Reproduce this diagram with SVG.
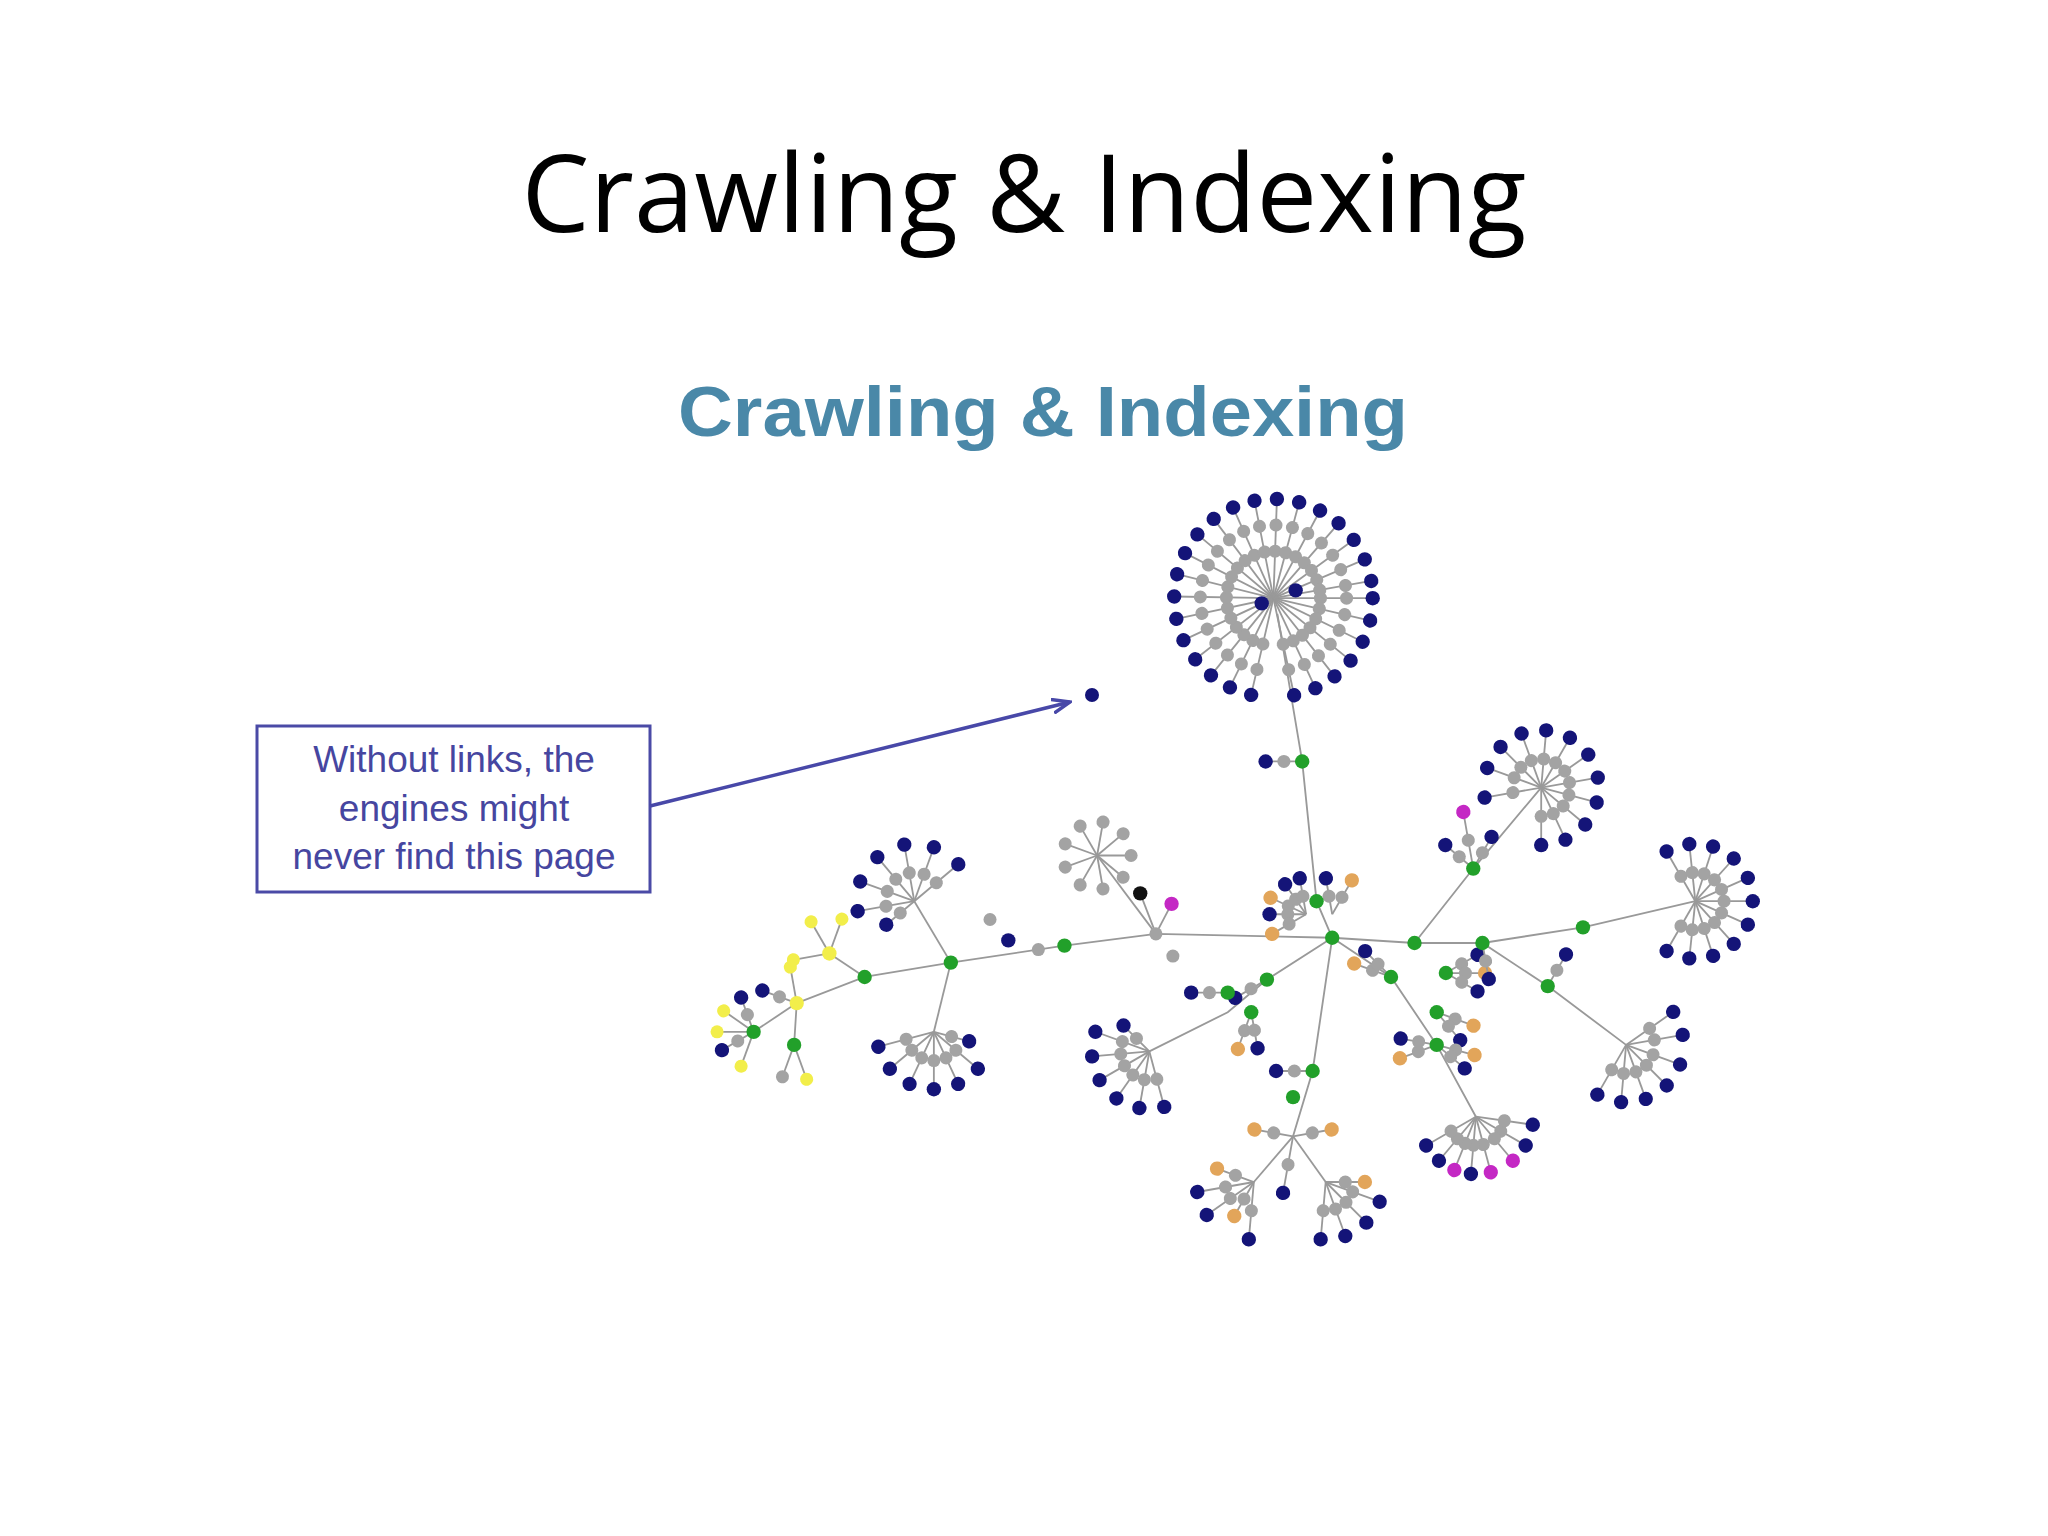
<svg xmlns="http://www.w3.org/2000/svg" xmlns:xlink="http://www.w3.org/1999/xlink" width="2048" height="1536" viewBox="0 0 2048 1536">
<style>
.t{font-family:"Open Sans","Liberation Sans",sans-serif}
.e{stroke:#999;stroke-width:1.4;fill:none}
.g{fill:#a3a3a3}.n{fill:#141478}.gr{fill:#22a02a}.y{fill:#f2ee4a}.o{fill:#e2a55a}.m{fill:#c428c4}.k{fill:#111}
</style>
<defs>
<g id="sB"><line x1="0" y1="0" x2="76" y2="0" class="e"/><circle cx="36" cy="0" r="5" class="g"/><circle cx="56" cy="0" r="5" class="g"/><circle cx="76" cy="0" r="5.5" class="n"/></g>
<g id="sM"><line x1="0" y1="0" x2="44" y2="0" class="e"/><circle cx="22" cy="0" r="5" class="g"/><circle cx="44" cy="0" r="5.5" class="n"/></g>
<g id="sS"><line x1="0" y1="0" x2="28" y2="0" class="e"/><circle cx="14" cy="0" r="5" class="g"/><circle cx="28" cy="0" r="5.5" class="n"/></g>
<g id="sG"><line x1="0" y1="0" x2="26" y2="0" class="e"/><circle cx="26" cy="0" r="5" class="g"/></g>
<g id="sY"><line x1="0" y1="0" x2="28" y2="0" class="e"/><circle cx="28" cy="0" r="5" class="y"/></g>
<g id="sO"><line x1="0" y1="0" x2="30" y2="0" class="e"/><circle cx="15" cy="0" r="5" class="g"/><circle cx="30" cy="0" r="5.5" class="o"/></g>
<g id="sP"><line x1="0" y1="0" x2="44" y2="0" class="e"/><circle cx="22" cy="0" r="5" class="g"/><circle cx="44" cy="0" r="5.5" class="m"/></g>
<marker id="ah" markerWidth="20" markerHeight="16" refX="18" refY="8" orient="auto" markerUnits="userSpaceOnUse"><path d="M0,1 L18,8 L0,15" fill="none" stroke="#4848a8" stroke-width="3.5"/></marker>
</defs>
<rect width="2048" height="1536" fill="#fff"/>
<text class="t" x="1024" y="232" font-size="108" text-anchor="middle" textLength="1005" fill="#000">Crawling &amp; Indexing</text>
<text x="1043" y="436" font-family="Liberation Sans,Arial,sans-serif" font-weight="bold" font-size="70" text-anchor="middle" textLength="730" lengthAdjust="spacingAndGlyphs" fill="#4a88a8">Crawling &amp; Indexing</text>
<g id="callout">
<rect x="257" y="726" width="393" height="166" fill="#fff" stroke="#4a4aa6" stroke-width="3"/>
<g font-family="Liberation Sans,Arial,sans-serif" font-size="37" fill="#4646a0" text-anchor="middle">
<text x="454" y="772">Without links, the</text>
<text x="454" y="821">engines might</text>
<text x="454" y="869">never find this page</text>
</g>
</g>
<g id="connectors">
<line x1="650" y1="806" x2="1070" y2="702" stroke="#4848a8" stroke-width="3.5" marker-end="url(#ah)"/>
</g>
<circle id="lonely" cx="1092" cy="695" r="7" class="n"/>
<g id="graph" transform="scale(1.3061)">
<g id="edges" class="e">
<polyline points="978,470 997,583 1008,690 1020,718"/>
<polyline points="1020,718 970,750 940,775 880,805"/>
<polyline points="1020,718 1005,820 990,870"/>
<polyline points="990,870 960,905"/><polyline points="990,870 1015,905"/>
<polyline points="1020,718 1065,748 1100,800 1130,855"/>
<polyline points="1020,718 1083,722 1135,722 1185,755 1245,800"/>
<polyline points="1135,722 1212,710 1298,690"/>
<polyline points="1083,722 1128,665 1180,603"/>
<polyline points="1020,718 885,715 815,724 728,737 662,748 610,768"/>
<polyline points="728,737 715,790"/><polyline points="728,737 700,690"/>
<polyline points="885,715 840,655"/><polyline points="610,768 577,790"/><polyline points="610,768 608,800"/><polyline points="662,748 635,730"/>
<polyline points="885,715 873,684"/><polyline points="885,715 897,692"/>
</g>
<g id="top"><use href="#sB" transform="translate(975,458) rotate(0)"/><use href="#sB" transform="translate(975,458) rotate(13)"/><use href="#sB" transform="translate(975,458) rotate(26)"/><use href="#sB" transform="translate(975,458) rotate(39)"/><use href="#sB" transform="translate(975,458) rotate(52)"/><use href="#sB" transform="translate(975,458) rotate(65)"/><use href="#sB" transform="translate(975,458) rotate(78)"/><use href="#sB" transform="translate(975,458) rotate(103)"/><use href="#sB" transform="translate(975,458) rotate(116)"/><use href="#sB" transform="translate(975,458) rotate(129)"/><use href="#sB" transform="translate(975,458) rotate(142)"/><use href="#sB" transform="translate(975,458) rotate(155)"/><use href="#sB" transform="translate(975,458) rotate(168)"/><use href="#sB" transform="translate(975,458) rotate(181)"/><use href="#sB" transform="translate(975,458) rotate(194)"/><use href="#sB" transform="translate(975,458) rotate(207)"/><use href="#sB" transform="translate(975,458) rotate(220)"/><use href="#sB" transform="translate(975,458) rotate(233)"/><use href="#sB" transform="translate(975,458) rotate(246)"/><use href="#sB" transform="translate(975,458) rotate(259)"/><use href="#sB" transform="translate(975,458) rotate(272)"/><use href="#sB" transform="translate(975,458) rotate(285)"/><use href="#sB" transform="translate(975,458) rotate(298)"/><use href="#sB" transform="translate(975,458) rotate(311)"/><use href="#sB" transform="translate(975,458) rotate(324)"/><use href="#sB" transform="translate(975,458) rotate(337)"/><use href="#sB" transform="translate(975,458) rotate(350)"/>
<circle cx="966" cy="462" r="5.5" class="n"/><circle cx="992" cy="452" r="5.5" class="n"/></g>
<g id="ru"><use href="#sM" transform="translate(1180,603) rotate(-160)"/><use href="#sM" transform="translate(1180,603) rotate(-135)"/><use href="#sM" transform="translate(1180,603) rotate(-110)"/><use href="#sM" transform="translate(1180,603) rotate(-85)"/><use href="#sM" transform="translate(1180,603) rotate(-60)"/><use href="#sM" transform="translate(1180,603) rotate(-35)"/><use href="#sM" transform="translate(1180,603) rotate(-10)"/><use href="#sM" transform="translate(1180,603) rotate(15)"/><use href="#sM" transform="translate(1180,603) rotate(40)"/><use href="#sM" transform="translate(1180,603) rotate(65)"/><use href="#sM" transform="translate(1180,603) rotate(90)"/><use href="#sM" transform="translate(1180,603) rotate(170)"/></g>
<g id="fr"><use href="#sM" transform="translate(1298,690) rotate(-120)"/><use href="#sM" transform="translate(1298,690) rotate(-96)"/><use href="#sM" transform="translate(1298,690) rotate(-72)"/><use href="#sM" transform="translate(1298,690) rotate(-48)"/><use href="#sM" transform="translate(1298,690) rotate(-24)"/><use href="#sM" transform="translate(1298,690) rotate(0)"/><use href="#sM" transform="translate(1298,690) rotate(24)"/><use href="#sM" transform="translate(1298,690) rotate(48)"/><use href="#sM" transform="translate(1298,690) rotate(72)"/><use href="#sM" transform="translate(1298,690) rotate(96)"/><use href="#sM" transform="translate(1298,690) rotate(120)"/></g>
<g id="rl"><use href="#sM" transform="translate(1245,800) rotate(-35)"/><use href="#sM" transform="translate(1245,800) rotate(-10)"/><use href="#sM" transform="translate(1245,800) rotate(20)"/><use href="#sM" transform="translate(1245,800) rotate(45)"/><use href="#sM" transform="translate(1245,800) rotate(70)"/><use href="#sM" transform="translate(1245,800) rotate(95)"/><use href="#sM" transform="translate(1245,800) rotate(120)"/></g>
<g id="lr"><use href="#sM" transform="translate(1130,855) rotate(30)"/><use href="#sP" transform="translate(1130,855) rotate(50)"/><use href="#sP" transform="translate(1130,855) rotate(75)"/><use href="#sM" transform="translate(1130,855) rotate(95)"/><use href="#sP" transform="translate(1130,855) rotate(112)"/><use href="#sM" transform="translate(1130,855) rotate(130)"/><use href="#sM" transform="translate(1130,855) rotate(150)"/><use href="#sM" transform="translate(1130,855) rotate(8)"/></g>
<g id="bt"><use href="#sM" transform="translate(960,905) rotate(95)"/><use href="#sO" transform="translate(960,905) rotate(120)"/><use href="#sM" transform="translate(960,905) rotate(145)"/><use href="#sM" transform="translate(960,905) rotate(170)"/><use href="#sO" transform="translate(960,905) rotate(200)"/><use href="#sM" transform="translate(1015,905) rotate(20)"/><use href="#sO" transform="translate(1015,905) rotate(0)"/><use href="#sM" transform="translate(1015,905) rotate(45)"/><use href="#sM" transform="translate(1015,905) rotate(70)"/><use href="#sM" transform="translate(1015,905) rotate(95)"/><use href="#sO" transform="translate(990,870) rotate(-10)"/><use href="#sO" transform="translate(990,870) rotate(190)"/><use href="#sM" transform="translate(990,870) rotate(100)"/></g>
<g id="ll"><use href="#sM" transform="translate(880,805) rotate(100)"/><use href="#sM" transform="translate(880,805) rotate(125)"/><use href="#sM" transform="translate(880,805) rotate(150)"/><use href="#sM" transform="translate(880,805) rotate(175)"/><use href="#sM" transform="translate(880,805) rotate(200)"/><use href="#sS" transform="translate(880,805) rotate(225)"/><use href="#sM" transform="translate(880,805) rotate(75)"/></g>
<g id="lcl"><use href="#sM" transform="translate(715,790) rotate(40)"/><use href="#sM" transform="translate(715,790) rotate(65)"/><use href="#sM" transform="translate(715,790) rotate(90)"/><use href="#sM" transform="translate(715,790) rotate(115)"/><use href="#sM" transform="translate(715,790) rotate(140)"/><use href="#sM" transform="translate(715,790) rotate(165)"/><use href="#sS" transform="translate(715,790) rotate(15)"/></g>
<g id="lu"><use href="#sM" transform="translate(700,690) rotate(170)"/><use href="#sM" transform="translate(700,690) rotate(200)"/><use href="#sM" transform="translate(700,690) rotate(230)"/><use href="#sM" transform="translate(700,690) rotate(260)"/><use href="#sM" transform="translate(700,690) rotate(290)"/><use href="#sM" transform="translate(700,690) rotate(320)"/><use href="#sS" transform="translate(700,690) rotate(140)"/></g>
<g id="yel"><use href="#sY" transform="translate(610,768) rotate(-100)"/><use href="#sY" transform="translate(635,730) rotate(-70)"/><use href="#sY" transform="translate(635,730) rotate(-120)"/><use href="#sY" transform="translate(635,730) rotate(170)"/><use href="#sY" transform="translate(577,790) rotate(180)"/><use href="#sY" transform="translate(577,790) rotate(215)"/><use href="#sS" transform="translate(577,790) rotate(150)"/><use href="#sY" transform="translate(577,790) rotate(110)"/><use href="#sY" transform="translate(608,800) rotate(70)"/><use href="#sG" transform="translate(608,800) rotate(110)"/><use href="#sS" transform="translate(610,768) rotate(200)"/><use href="#sS" transform="translate(577,790) rotate(250)"/></g>
<g id="sg"><use href="#sG" transform="translate(840,655) rotate(0)"/><use href="#sG" transform="translate(840,655) rotate(40)"/><use href="#sG" transform="translate(840,655) rotate(80)"/><use href="#sG" transform="translate(840,655) rotate(120)"/><use href="#sG" transform="translate(840,655) rotate(160)"/><use href="#sG" transform="translate(840,655) rotate(200)"/><use href="#sG" transform="translate(840,655) rotate(240)"/><use href="#sG" transform="translate(840,655) rotate(280)"/><use href="#sG" transform="translate(840,655) rotate(320)"/>
<circle cx="873" cy="684" r="5.5" class="k"/><circle cx="897" cy="692" r="5.5" class="m"/><circle cx="885" cy="715" r="5" class="g"/><circle cx="898" cy="732" r="5" class="g"/><circle cx="772" cy="720" r="5.5" class="n"/><circle cx="758" cy="704" r="5" class="g"/><circle cx="795" cy="727" r="5" class="g"/></g>
<g id="center"><use href="#sS" transform="translate(1000,700) rotate(180)"/><use href="#sO" transform="translate(1000,700) rotate(205)"/><use href="#sS" transform="translate(1000,700) rotate(235)"/><use href="#sS" transform="translate(1000,700) rotate(260)"/><use href="#sO" transform="translate(1000,700) rotate(150)"/><use href="#sO" transform="translate(1020,700) rotate(-60)"/><use href="#sS" transform="translate(1020,700) rotate(-100)"/>
<use href="#sS" transform="translate(1107,745) rotate(-30)"/><use href="#sO" transform="translate(1107,745) rotate(0)"/><use href="#sS" transform="translate(1107,745) rotate(30)"/><use href="#sO" transform="translate(1100,775) rotate(20)"/><use href="#sS" transform="translate(1100,775) rotate(50)"/><use href="#sO" transform="translate(1100,800) rotate(160)"/><use href="#sS" transform="translate(1100,800) rotate(190)"/><use href="#sO" transform="translate(1100,800) rotate(15)"/><use href="#sS" transform="translate(1100,800) rotate(40)"/><use href="#sO" transform="translate(1065,748) rotate(200)"/><use href="#sS" transform="translate(1065,748) rotate(225)"/>
<use href="#sS" transform="translate(1128,665) rotate(-60)"/><use href="#sP" transform="translate(1128,665) rotate(-100)"/><use href="#sS" transform="translate(1128,665) rotate(-140)"/>
<use href="#sS" transform="translate(970,750) rotate(150)"/><use href="#sO" transform="translate(958,775) rotate(110)"/><use href="#sS" transform="translate(958,775) rotate(80)"/><use href="#sS" transform="translate(940,760) rotate(180)"/><use href="#sS" transform="translate(1005,820) rotate(180)"/><use href="#sS" transform="translate(1135,722) rotate(80)"/><use href="#sS" transform="translate(1185,755) rotate(-60)"/><use href="#sS" transform="translate(997,583) rotate(180)"/></g>
<g id="green" class="gr"><circle cx="997" cy="583" r="5.5"/><circle cx="1008" cy="690" r="5.5"/><circle cx="1020" cy="718" r="5.5"/><circle cx="1083" cy="722" r="5.5"/><circle cx="1135" cy="722" r="5.5"/><circle cx="1212" cy="710" r="5.5"/><circle cx="1128" cy="665" r="5.5"/><circle cx="1185" cy="755" r="5.5"/><circle cx="1100" cy="775" r="5.5"/><circle cx="1100" cy="800" r="5.5"/><circle cx="1107" cy="745" r="5.5"/><circle cx="1065" cy="748" r="5.5"/><circle cx="970" cy="750" r="5.5"/><circle cx="958" cy="775" r="5.5"/><circle cx="940" cy="760" r="5.5"/><circle cx="1005" cy="820" r="5.5"/><circle cx="990" cy="840" r="5.5"/><circle cx="815" cy="724" r="5.5"/><circle cx="728" cy="737" r="5.5"/><circle cx="662" cy="748" r="5.5"/><circle cx="577" cy="790" r="5.5"/><circle cx="608" cy="800" r="5.5"/></g>
<circle cx="610" cy="768" r="5.5" class="y"/><circle cx="635" cy="730" r="5.5" class="y"/>
</g>
</svg>
